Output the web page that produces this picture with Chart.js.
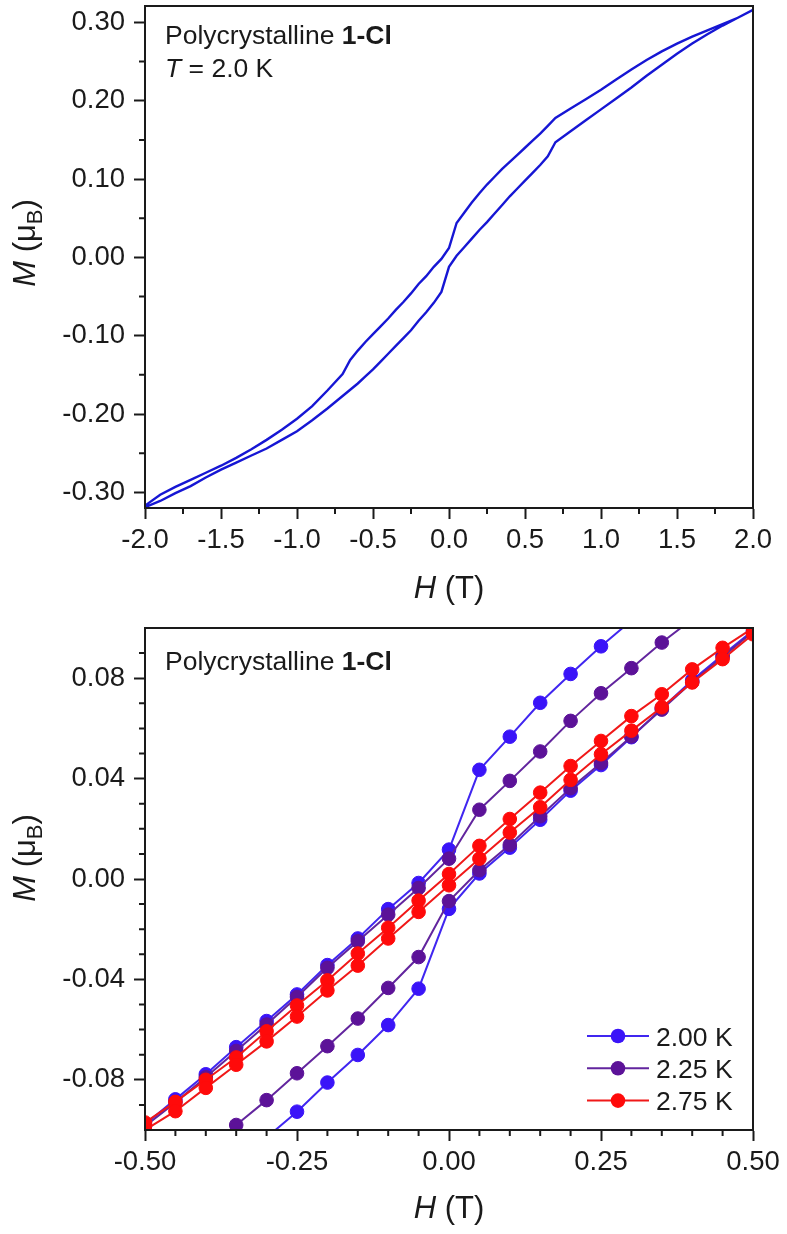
<!DOCTYPE html>
<html><head><meta charset="utf-8">
<script src="https://cdn.jsdelivr.net/npm/chart.js@4.4.1/dist/chart.umd.min.js"></script>
<style>
html,body{margin:0;padding:0;background:#fff;}
#wrap{position:relative;width:787px;height:1234px;overflow:hidden;background:#fff;}
canvas{position:absolute;left:0;}
</style></head><body>
<div id="wrap">
<canvas id="c1" width="787" height="612" style="top:0;width:787px;height:612px"></canvas>
<canvas id="c2" width="787" height="622" style="top:612px;width:787px;height:622px"></canvas>
</div>
<script>
// ---------- TOP PANEL: T = 2.0 K, full hysteresis loop ----------
const topFieldDown = [2.0,1.9,1.8,1.7,1.6,1.5,1.4,1.3,1.2,1.1,1.0,0.9,0.8,0.7,0.65,0.6,0.55,0.5,0.45,0.4,0.35,0.3,0.25,0.2,0.15,0.1,0.05,0,-0.05,-0.1,-0.15,-0.2,-0.25,-0.3,-0.35,-0.4,-0.45,-0.5,-0.55,-0.6,-0.65,-0.7,-0.8,-0.9,-1.0,-1.1,-1.2,-1.3,-1.4,-1.5,-1.6,-1.7,-1.8,-1.9,-2.0];
const topMomentDown = [0.316,0.306,0.298,0.290,0.282,0.273,0.263,0.252,0.240,0.227,0.214,0.202,0.190,0.178,0.168,0.158,0.149,0.140,0.131,0.122,0.113,0.103,0.093,0.082,0.070,0.057,0.044,0.012,-0.002,-0.012,-0.024,-0.034,-0.046,-0.057,-0.067,-0.078,-0.088,-0.098,-0.108,-0.119,-0.131,-0.149,-0.170,-0.190,-0.206,-0.220,-0.233,-0.245,-0.256,-0.266,-0.275,-0.284,-0.293,-0.303,-0.317];
const topFieldUp = [-2.0,-1.9,-1.8,-1.7,-1.6,-1.5,-1.4,-1.3,-1.2,-1.1,-1.0,-0.9,-0.8,-0.7,-0.65,-0.6,-0.55,-0.5,-0.45,-0.4,-0.35,-0.3,-0.25,-0.2,-0.15,-0.1,-0.05,0,0.05,0.1,0.15,0.2,0.25,0.3,0.35,0.4,0.45,0.5,0.55,0.6,0.65,0.7,0.8,0.9,1.0,1.1,1.2,1.3,1.4,1.5,1.6,1.7,1.8,1.9,2.0];
const topMomentUp = [-0.319,-0.311,-0.301,-0.292,-0.281,-0.271,-0.262,-0.253,-0.244,-0.233,-0.222,-0.208,-0.193,-0.177,-0.169,-0.161,-0.152,-0.143,-0.133,-0.123,-0.113,-0.103,-0.093,-0.081,-0.070,-0.058,-0.044,-0.012,0.002,0.013,0.024,0.035,0.045,0.056,0.067,0.078,0.088,0.098,0.108,0.118,0.129,0.147,0.161,0.175,0.189,0.203,0.217,0.232,0.246,0.260,0.273,0.285,0.296,0.306,0.316];
const topXTicks = [-2.0,-1.5,-1.0,-0.5,0.0,0.5,1.0,1.5,2.0];
const topXMinor = [-1.75,-1.25,-0.75,-0.25,0.25,0.75,1.25,1.75];
const topYTicks = [-0.30,-0.20,-0.10,0.00,0.10,0.20,0.30];
const topYMinor = [-0.25,-0.15,-0.05,0.05,0.15,0.25];

// ---------- BOTTOM PANEL: low-field region at three temperatures ----------
const fieldDown = [0.5,0.45,0.4,0.35,0.3,0.25,0.2,0.15,0.1,0.05,0,-0.05,-0.1,-0.15,-0.2,-0.25,-0.3,-0.35,-0.4,-0.45,-0.5];
const fieldUp = [-0.5,-0.45,-0.4,-0.35,-0.3,-0.25,-0.2,-0.15,-0.1,-0.05,0,0.05,0.1,0.15,0.2,0.25,0.3,0.35,0.4,0.45,0.5];
const temperatures = ['2.00 K','2.25 K','2.75 K'];
const m200Down = [0.140,0.131,0.122,0.113,0.103,0.0927,0.0817,0.0702,0.0567,0.0435,0.0117,-0.0016,-0.0120,-0.0237,-0.0343,-0.0460,-0.0566,-0.0670,-0.0778,-0.0878,-0.0977];
const m200Up = [-0.140,-0.131,-0.122,-0.113,-0.103,-0.0927,-0.0811,-0.0701,-0.0582,-0.0437,-0.0119,0.0022,0.0125,0.0236,0.0352,0.0454,0.0565,0.0680,0.0792,0.0892,0.0990];
const m225Down = [0.121,0.112,0.1035,0.0942,0.0840,0.0740,0.0630,0.0508,0.0391,0.0276,0.0081,-0.0036,-0.0142,-0.0248,-0.0354,-0.0470,-0.0580,-0.0685,-0.0790,-0.0890,-0.0985];
const m225Up = [-0.121,-0.113,-0.1075,-0.0980,-0.0881,-0.0774,-0.0666,-0.0556,-0.0434,-0.0311,-0.0088,0.0035,0.0136,0.0250,0.0362,0.0462,0.0568,0.0675,0.0785,0.0885,0.0985];
const m275Down = [0.1000,0.0921,0.0835,0.0736,0.0649,0.0550,0.0450,0.0344,0.0239,0.0132,0.0020,-0.0086,-0.0194,-0.0297,-0.0404,-0.0504,-0.0607,-0.0711,-0.0800,-0.0888,-0.0970];
const m275Up = [-0.1000,-0.0925,-0.0832,-0.0740,-0.0647,-0.0548,-0.0444,-0.0345,-0.0237,-0.0131,-0.0025,0.0081,0.0185,0.0286,0.0395,0.0497,0.0591,0.0684,0.0783,0.0876,0.0975];
const botXTicks = [-0.50,-0.25,0.00,0.25,0.50];
const botXMinor = [-0.45,-0.40,-0.35,-0.30,-0.20,-0.15,-0.10,-0.05,0.05,0.10,0.15,0.20,0.30,0.35,0.40,0.45];
const botYTicks = [-0.08,-0.04,0.00,0.04,0.08];
const botYMinor = [-0.09,-0.07,-0.06,-0.05,-0.03,-0.02,-0.01,0.01,0.02,0.03,0.05,0.06,0.07,0.09];

// ---------- styling ----------
const FONT = "'Liberation Sans', Arial, Helvetica, sans-serif";
const INK = '#1a1a1a';
const seriesColors = ['#3a14f8', '#5c1298', '#ff0a0a'];
const lineColors = ['#4026f0', '#62259e', '#f01818'];

function loop(fd, md, fu, mu) {
  return fd.map((h, i) => ({x: h, y: md[i]})).concat(fu.map((h, i) => ({x: h, y: mu[i]})));
}

function drawRuns(ctx, x, y, runs, align) {
  let w = 0;
  runs.forEach(r => { ctx.font = r.font; w += ctx.measureText(r.text).width; });
  let cx = align === 'center' ? x - w / 2 : x;
  runs.forEach(r => {
    ctx.font = r.font;
    ctx.fillText(r.text, cx, y + (r.dy || 0));
    cx += ctx.measureText(r.text).width;
  });
}

function makeDecor(cfg) {
  return {
    id: 'decor' + cfg.name,
    afterDraw(chart) {
      const ctx = chart.ctx, a = chart.chartArea;
      const xs = chart.scales.x, ys = chart.scales.y;
      ctx.save();
      ctx.strokeStyle = INK; ctx.lineWidth = 2;
      ctx.strokeRect(a.left, a.top, a.right - a.left, a.bottom - a.top);
      ctx.beginPath();
      cfg.xMinor.forEach(v => { const p = xs.getPixelForValue(v); ctx.moveTo(p, a.bottom); ctx.lineTo(p, a.bottom + 6); });
      cfg.yMinor.forEach(v => { const p = ys.getPixelForValue(v); ctx.moveTo(a.left, p); ctx.lineTo(a.left - 6, p); });
      ctx.stroke();
      ctx.fillStyle = INK;
      ctx.textBaseline = 'alphabetic';
      ctx.textAlign = 'left';
      // x-axis title
      drawRuns(ctx, (a.left + a.right) / 2, cfg.xTitleY, [
        {text: 'H', font: 'italic 31px ' + FONT},
        {text: ' (T)', font: '31px ' + FONT}
      ], 'center');
      // y-axis title (rotated)
      ctx.save();
      ctx.translate(35, cfg.yTitleCY);
      ctx.rotate(-Math.PI / 2);
      drawRuns(ctx, 0, 0, [
        {text: 'M', font: 'italic 31px ' + FONT},
        {text: ' (\u03bc', font: '31px ' + FONT},
        {text: 'B', font: '22px ' + FONT, dy: 7},
        {text: ')', font: '31px ' + FONT}
      ], 'center');
      ctx.restore();
      // annotations
      drawRuns(ctx, a.left + 20, cfg.noteY, [
        {text: 'Polycrystalline ', font: '26.5px ' + FONT},
        {text: '1-Cl', font: 'bold 26.5px ' + FONT}
      ]);
      if (cfg.note2) {
        drawRuns(ctx, a.left + 20, cfg.noteY + 33, [
          {text: 'T', font: 'italic 26.5px ' + FONT},
          {text: ' = 2.0 K', font: '26.5px ' + FONT}
        ]);
      }
      // legend
      if (cfg.legend) {
        chart.data.datasets.forEach((ds, i) => {
          const ry = cfg.legend.y + i * 32.3;
          ctx.strokeStyle = ds.borderColor; ctx.lineWidth = 2;
          ctx.beginPath(); ctx.moveTo(cfg.legend.x, ry); ctx.lineTo(cfg.legend.x + 62, ry); ctx.stroke();
          ctx.fillStyle = ds.pointBackgroundColor;
          ctx.beginPath(); ctx.arc(cfg.legend.x + 31, ry, 7.3, 0, Math.PI * 2); ctx.fill();
          ctx.fillStyle = INK;
          ctx.font = '26.5px ' + FONT;
          ctx.fillText(ds.label, cfg.legend.x + 69, ry + 9.5);
        });
      }
      ctx.restore();
    }
  };
}

function axisOpts(min, max, ticks, fmt, fitProp, fitVal, pad) {
  return {
    type: 'linear', min: min, max: max,
    afterBuildTicks: s => { s.ticks = ticks.map(v => ({value: v})); },
    afterFit: s => { s[fitProp] = fitVal; s.paddingTop = 0; s.paddingBottom = 0; s.paddingLeft = 0; s.paddingRight = 0; },
    ticks: { callback: v => Number(v).toFixed(fmt), font: {family: FONT, size: 27.5}, color: INK, padding: pad, maxRotation: 0, autoSkip: false },
    grid: { display: true, drawOnChartArea: false, drawTicks: true, tickLength: 11, tickWidth: 2, tickColor: INK },
    border: { display: true, color: INK, width: 2 }
  };
}

// ---------- top chart ----------
new Chart(document.getElementById('c1'), {
  type: 'scatter',
  data: { datasets: [{
    label: 'T = 2.0 K',
    data: loop(topFieldDown, topMomentDown, topFieldUp, topMomentUp),
    showLine: true, borderColor: '#1616d4', borderWidth: 2.4, pointRadius: 0, tension: 0, clip: 0
  }]},
  options: {
    responsive: false, animation: false, devicePixelRatio: 1,
    layout: { padding: { left: 0, right: 34, top: 6, bottom: 0 } },
    plugins: { legend: {display: false}, tooltip: {enabled: false} },
    scales: {
      x: axisOpts(-2, 2, topXTicks, 1, 'height', 104, 5),
      y: axisOpts(-0.320, 0.321, topYTicks, 2, 'width', 145, 9)
    }
  },
  plugins: [makeDecor({name: 'top', xMinor: topXMinor, yMinor: topYMinor, xTitleY: 598, yTitleCY: 243, noteY: 44, note2: true})]
});

// ---------- bottom chart ----------
const botSeries = [[m200Down, m200Up], [m225Down, m225Up], [m275Down, m275Up]];
new Chart(document.getElementById('c2'), {
  type: 'scatter',
  data: { datasets: botSeries.map((s, i) => ({
    label: temperatures[i],
    data: loop(fieldDown, s[0], fieldUp, s[1]),
    showLine: true, borderColor: lineColors[i], borderWidth: 2,
    pointRadius: 6.8, pointBackgroundColor: seriesColors[i], pointBorderColor: seriesColors[i], pointBorderWidth: 1,
    tension: 0, clip: 0, order: 3 - i
  }))},
  options: {
    responsive: false, animation: false, devicePixelRatio: 1,
    layout: { padding: { left: 0, right: 34, top: 16, bottom: 0 } },
    plugins: { legend: {display: false}, tooltip: {enabled: false} },
    scales: {
      x: axisOpts(-0.5, 0.5, botXTicks, 2, 'height', 104, 5),
      y: axisOpts(-0.1, 0.1, botYTicks, 2, 'width', 145, 9)
    }
  },
  plugins: [makeDecor({name: 'bot', xMinor: botXMinor, yMinor: botYMinor, xTitleY: 606, yTitleCY: 246, noteY: 58, note2: false, legend: {x: 587, y: 424}})]
});
</script>
</body></html>
